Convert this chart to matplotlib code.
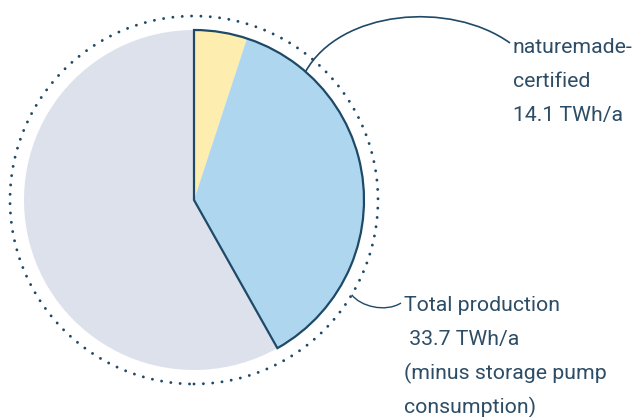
import numpy as np
import matplotlib
matplotlib.use("Agg")
import matplotlib.pyplot as plt
from matplotlib.patches import Circle, PathPatch
from matplotlib.path import Path

# Data (TWh/a)
total_production = 33.7
naturemade_certified = 14.1
segment_labels = ["naturemade star", "naturemade basic", "other"]
segment_values = [1.7, 12.4, 19.6]
label_certified = ["naturemade-", "certified", "14.1 TWh/a"]
label_total = ["Total production", " 33.7 TWh/a", "(minus storage pump", "consumption)"]

colors = ["#FDEEB0", "#AED6EF", "#DDE1EC"]
navy = "#1E4A68"
text_color = "#2D4D66"

W, H = 639, 417
fig = plt.figure(figsize=(W / 100, H / 100), dpi=100)
ax = fig.add_axes([0, 0, 1, 1])

cx, cy = 194, H - 200
R = 170
R_dot = 184

# Pie slices
ax.pie(segment_values, colors=colors, startangle=90, counterclock=False,
       center=(cx, cy), radius=R, wedgeprops=dict(linewidth=0), frame=True)
# Outline of the certified part
wedges, _ = ax.pie([naturemade_certified, total_production - naturemade_certified],
                   colors=["none", "none"], startangle=90, counterclock=False,
                   center=(cx, cy), radius=R, frame=True,
                   wedgeprops=dict(linewidth=1.6, edgecolor=navy, fill=False,
                                   joinstyle="miter"))
wedges[1].set_edgecolor("none")
ax.set_xlim(0, W)
ax.set_ylim(0, H)
ax.set_aspect("equal")
ax.axis("off")

# Dotted circle
circ = Circle((cx, cy), R_dot, fill=False, edgecolor=navy, linewidth=2.1,
              linestyle=(0, (0.01, 3.2)))
circ.set_capstyle("round")
ax.add_patch(circ)

def pt(r, ang_deg):
    a = np.deg2rad(ang_deg)
    return cx + r * np.sin(a), cy + r * np.cos(a)

# Connector 1
x0, y0 = pt(R, 41)
verts = [(x0, y0), (340, H - 10), (450, H - 0), (510, H - 43)]
p = Path(verts, [Path.MOVETO, Path.CURVE4, Path.CURVE4, Path.CURVE4])
ax.add_patch(PathPatch(p, fill=False, edgecolor=navy, linewidth=1.2))

# Connector 2
x1, y1 = pt(R_dot, 121)
verts = [(x1, y1), (360, H - 306), (385, H - 313), (401, H - 303)]
p = Path(verts, [Path.MOVETO, Path.CURVE4, Path.CURVE4, Path.CURVE4])
ax.add_patch(PathPatch(p, fill=False, edgecolor=navy, linewidth=1.0))

fs = 15.3
for i, s in enumerate(label_certified):
    ax.text(513, H - (52.7 + 34 * i), s, fontsize=fs, family="Roboto",
            color=text_color, va="baseline", ha="left")
for i, s in enumerate(label_total):
    ax.text(404, H - (311 + 34 * i), s, fontsize=fs, family="Roboto",
            color=text_color, va="baseline", ha="left")

fig.savefig("out.png", dpi=100)
